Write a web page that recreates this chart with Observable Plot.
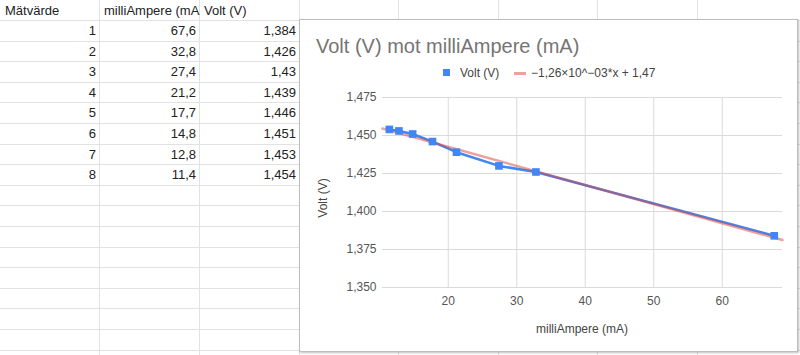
<!DOCTYPE html>
<html><head><meta charset="utf-8">
<script src="https://cdn.jsdelivr.net/npm/d3@7"></script>
<script src="https://cdn.jsdelivr.net/npm/@observablehq/plot@0.6"></script>
<style>
body{margin:0;width:800px;height:355px;overflow:hidden;background:#fff;font-family:Arial,"Liberation Sans",sans-serif;position:relative}
.gl{position:absolute;background:#e2e2e2}
.cell{position:absolute;font-size:13px;color:#222;white-space:nowrap;box-sizing:border-box;padding-top:1px}
#chart{position:absolute;left:299px;top:19px;width:497px;height:331px;border:1px solid #bdbdbd;background:#fff;box-shadow:1px 1px 2px rgba(0,0,0,0.25)}
#title{position:absolute;left:16px;top:16px;font-size:20px;line-height:20px;color:#757575;white-space:nowrap}
.lg{position:absolute;font-size:12px;line-height:12px;color:#444;white-space:nowrap}
#plot{position:absolute;left:0;top:60px}
#ylab{position:absolute;left:23px;top:178px;font-size:12px;color:#444;white-space:nowrap;transform:translate(-50%,-50%) rotate(-90deg)}
#xlab{position:absolute;left:282px;top:309px;font-size:12px;color:#444;white-space:nowrap;transform:translate(-50%,-50%)}
</style></head>
<body>
<div id="sheet"></div>
<div id="chart">
  <div id="title"></div>
  <div id="legend"></div>
  <div id="plot"></div>
  <div id="ylab"></div>
  <div id="xlab"></div>
</div>
<script>
// ---- data ----
const headers = ["Mätvärde", "milliAmpere (mA", "Volt (V)"];
const matvarde = [1, 2, 3, 4, 5, 6, 7, 8];
const milliAmpere = [67.6, 32.8, 27.4, 21.2, 17.7, 14.8, 12.8, 11.4];
const volt = [1.384, 1.426, 1.43, 1.439, 1.446, 1.451, 1.453, 1.454];
const chartTitle = "Volt (V) mot milliAmpere (mA)";
const legendLabels = ["Volt (V)", "\u22121,26\u00d710^\u221203*x + 1,47"];
const xLabel = "milliAmpere (mA)";
const yLabel = "Volt (V)";
const xTicks = [20, 30, 40, 50, 60];
const xTickLabels = ["20", "30", "40", "50", "60"];
const yTicks = [1.35, 1.375, 1.4, 1.425, 1.45, 1.475];
const yTickLabels = ["1,350", "1,375", "1,400", "1,425", "1,450", "1,475"];
const xDomain = [10.4, 68.8];
const yDomain = [1.35, 1.475];

// ---- spreadsheet ----
const sheet = document.getElementById("sheet");
const rowH = 20.6, top0 = 20;
function add(cls, css, text) {
  const d = document.createElement("div");
  d.className = cls;
  Object.assign(d.style, css);
  if (text != null) d.textContent = text;
  sheet.appendChild(d);
  return d;
}
for (let i = 0; i <= 16; i++) add("gl", {left: "0px", top: (top0 + i * rowH) + "px", width: "800px", height: "1px"});
[100, 200, 300, 399, 499, 598, 698].forEach(x => add("gl", {left: (x - 1) + "px", top: "0px", width: "1px", height: "355px"}));
const comma = v => String(v).replace(".", ",");
headers.forEach((h, j) => add("cell", {left: (100 * j) + "px", top: "0px", height: "20px", lineHeight: "20px", paddingLeft: (j === 0 ? 5 : 4) + "px", textAlign: "left"}, h));
matvarde.forEach((m, i) => {
  const vals = [String(m), comma(milliAmpere[i]), comma(volt[i])];
  vals.forEach((v, j) => add("cell", {left: (100 * j) + "px", top: (top0 + i * rowH) + "px", width: "99px", height: rowH + "px", lineHeight: rowH + "px", paddingRight: "3px", textAlign: "right"}, v));
});

// ---- chart texts ----
document.getElementById("title").textContent = chartTitle;
document.getElementById("ylab").textContent = yLabel;
document.getElementById("xlab").textContent = xLabel;
const legend = document.getElementById("legend");
function lg(css, text) {
  const d = document.createElement("div");
  d.className = "lg";
  Object.assign(d.style, css);
  if (text != null) d.textContent = text;
  legend.appendChild(d);
}
lg({left: "143px", top: "49px", width: "7px", height: "7px", background: "#4285F4"});
lg({left: "160px", top: "47px"}, legendLabels[0]);
lg({left: "214px", top: "51.5px", width: "12px", height: "3px", background: "#DB4437", opacity: "0.5"});
lg({left: "231px", top: "47px"}, legendLabels[1]);

// ---- plot ----
const data = milliAmpere.map((x, i) => ({x, y: volt[i]}));
const mx = d3.mean(milliAmpere), my = d3.mean(volt);
const slope = d3.sum(data, d => (d.x - mx) * (d.y - my)) / d3.sum(data, d => (d.x - mx) ** 2);
const intercept = my - slope * mx;
const trend = xDomain.map(x => ({x, y: intercept + slope * x}));
const yLab = new Map(yTicks.map((t, i) => [t, yTickLabels[i]]));
const xLab = new Map(xTicks.map((t, i) => [t, xTickLabels[i]]));

const chart = Plot.plot({
  width: 497, height: 265,
  marginLeft: 82, marginRight: 15, marginTop: 17, marginBottom: 58,
  style: {fontFamily: "Arial, 'Liberation Sans', sans-serif", fontSize: "12px", color: "#555", background: "transparent", overflow: "visible"},
  x: {domain: xDomain},
  y: {domain: yDomain},
  marks: [
    Plot.gridY(yTicks, {stroke: "#dadada", strokeOpacity: 1}),
    Plot.gridX(xTicks, {stroke: "#dadada", strokeOpacity: 1}),
    Plot.axisY(yTicks, {tickSize: 0, tickPadding: 6, tickFormat: d => yLab.get(d), label: null, fill: "#555"}),
    Plot.axisX(xTicks, {tickSize: 0, tickPadding: 9, tickFormat: d => xLab.get(d), label: null, fill: "#555"}),
    Plot.line(data, {x: "x", y: "y", stroke: "#4285F4", strokeWidth: 2.5}),
    Plot.line(trend, {x: "x", y: "y", stroke: "#DB4437", strokeOpacity: 0.5, strokeWidth: 2.5}),
    Plot.dot(data, {x: "x", y: "y", symbol: "square", r: 4.3, fill: "#4285F4", stroke: "none"})
  ]
});
document.getElementById("plot").appendChild(chart);
</script>
</body></html>
